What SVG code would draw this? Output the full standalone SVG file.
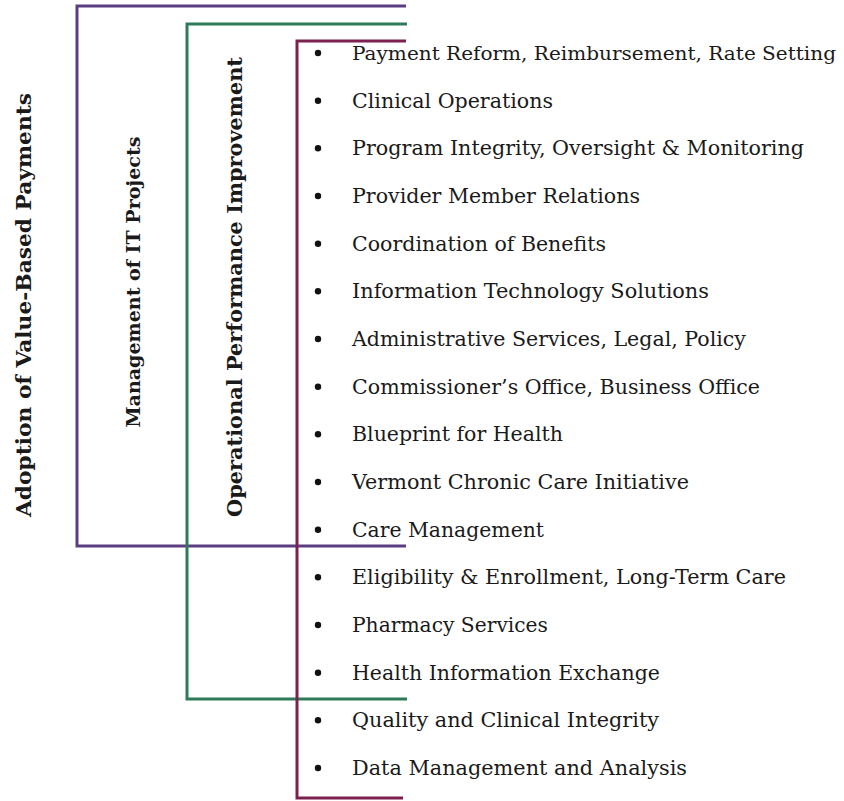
<svg xmlns="http://www.w3.org/2000/svg" width="844" height="801" viewBox="0 0 844 801">
<style>
.br{fill:none;stroke-width:3;stroke-linejoin:miter;stroke-linecap:butt}
.p{stroke:#5C3D82}
.g{stroke:#2E7A58}
.m{stroke:#7C2050}
.it{font-family:"DejaVu Serif","Liberation Serif",serif;font-size:20.5px;fill:#1a1a1a}
.lb{font-family:"DejaVu Serif","Liberation Serif",serif;font-weight:bold;fill:#1a1a1a;text-anchor:middle}
.bu{fill:#111}
</style>
<rect width="844" height="801" fill="#fff"/>
<g id="connectors">
<path class="br p" d="M406,6 H77 V546 H406"/>
<path class="br g" d="M407,24 H187 V699 H407"/>
<path class="br m" d="M406,41 H297 V798 H403"/>
</g>
<g id="label-adoption"><text class="lb" font-size="21" transform="translate(31,305) rotate(-90)" textLength="424" lengthAdjust="spacingAndGlyphs">Adoption of Value-Based Payments</text></g>
<g id="label-it"><text class="lb" font-size="19" transform="translate(140,282) rotate(-90)" textLength="291" lengthAdjust="spacingAndGlyphs">Management of IT Projects</text></g>
<g id="label-ops"><text class="lb" font-size="21" transform="translate(242,287) rotate(-90)" textLength="460" lengthAdjust="spacingAndGlyphs">Operational Performance Improvement</text></g>
<g id="items">
<g id="item1"><circle class="bu" cx="318" cy="53" r="3.2"/><text class="it" x="352" y="60" style="font-size:19px" textLength="484" lengthAdjust="spacingAndGlyphs">Payment Reform, Reimbursement, Rate Setting</text></g>
<g id="item2"><circle class="bu" cx="318" cy="100.7" r="3.2"/><text class="it" x="352" y="107.7" textLength="201" lengthAdjust="spacingAndGlyphs">Clinical Operations</text></g>
<g id="item3"><circle class="bu" cx="318" cy="148.3" r="3.2"/><text class="it" x="352" y="155.3" textLength="452" lengthAdjust="spacingAndGlyphs">Program Integrity, Oversight &amp; Monitoring</text></g>
<g id="item4"><circle class="bu" cx="318" cy="196" r="3.2"/><text class="it" x="352" y="203" textLength="288" lengthAdjust="spacingAndGlyphs">Provider Member Relations</text></g>
<g id="item5"><circle class="bu" cx="318" cy="243.7" r="3.2"/><text class="it" x="352" y="250.7" textLength="254" lengthAdjust="spacingAndGlyphs">Coordination of Benefits</text></g>
<g id="item6"><circle class="bu" cx="318" cy="291.3" r="3.2"/><text class="it" x="352" y="298.3" textLength="357" lengthAdjust="spacingAndGlyphs">Information Technology Solutions</text></g>
<g id="item7"><circle class="bu" cx="318" cy="339" r="3.2"/><text class="it" x="352" y="346" textLength="394" lengthAdjust="spacingAndGlyphs">Administrative Services, Legal, Policy</text></g>
<g id="item8"><circle class="bu" cx="318" cy="386.7" r="3.2"/><text class="it" x="352" y="393.7" textLength="408" lengthAdjust="spacingAndGlyphs">Commissioner’s Office, Business Office</text></g>
<g id="item9"><circle class="bu" cx="318" cy="434.3" r="3.2"/><text class="it" x="352" y="441.3" textLength="211" lengthAdjust="spacingAndGlyphs">Blueprint for Health</text></g>
<g id="item10"><circle class="bu" cx="318" cy="482" r="3.2"/><text class="it" x="352" y="489" textLength="337" lengthAdjust="spacingAndGlyphs">Vermont Chronic Care Initiative</text></g>
<g id="item11"><circle class="bu" cx="318" cy="529.7" r="3.2"/><text class="it" x="352" y="536.7" textLength="192" lengthAdjust="spacingAndGlyphs">Care Management</text></g>
<g id="item12"><circle class="bu" cx="318" cy="577.3" r="3.2"/><text class="it" x="352" y="584.3" textLength="434" lengthAdjust="spacingAndGlyphs">Eligibility &amp; Enrollment, Long-Term Care</text></g>
<g id="item13"><circle class="bu" cx="318" cy="625" r="3.2"/><text class="it" x="352" y="632" textLength="196" lengthAdjust="spacingAndGlyphs">Pharmacy Services</text></g>
<g id="item14"><circle class="bu" cx="318" cy="672.7" r="3.2"/><text class="it" x="352" y="679.7" textLength="308" lengthAdjust="spacingAndGlyphs">Health Information Exchange</text></g>
<g id="item15"><circle class="bu" cx="318" cy="720.3" r="3.2"/><text class="it" x="352" y="727.3" textLength="307" lengthAdjust="spacingAndGlyphs">Quality and Clinical Integrity</text></g>
<g id="item16"><circle class="bu" cx="318" cy="768" r="3.2"/><text class="it" x="352" y="775" textLength="335" lengthAdjust="spacingAndGlyphs">Data Management and Analysis</text></g>
</g>
</svg>
